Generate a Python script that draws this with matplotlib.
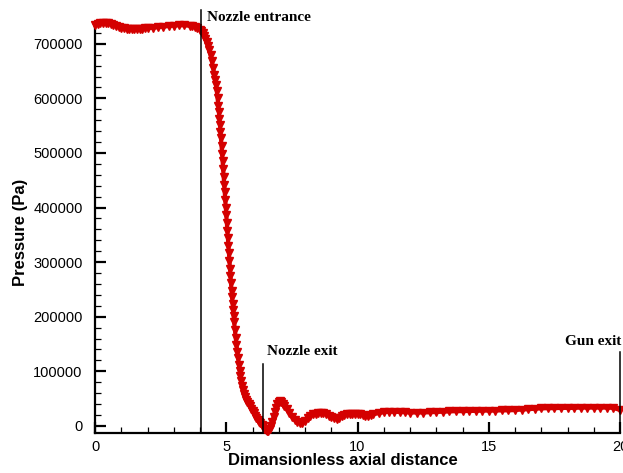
import numpy as np
import matplotlib
matplotlib.use("Agg")
import matplotlib.pyplot as plt

# axial position (dimensionless) and static pressure (Pa)
x_pos = [
    0.0, 0.1, 0.2, 0.3, 0.4, 0.5, 0.6, 0.7, 0.8, 0.9,
    1.0, 1.1, 1.2, 1.3, 1.4, 1.5, 1.6, 1.7, 1.8, 1.9,
    2.0, 2.2, 2.4, 2.6, 2.8, 3.0, 3.2, 3.4, 3.6, 3.7,
    3.8, 3.9, 4.0, 4.05, 4.10, 4.15, 4.20, 4.25, 4.30, 4.35,
    4.40, 4.45, 4.50, 4.55, 4.58, 4.61, 4.64, 4.67, 4.70, 4.72,
    4.74, 4.76, 4.78, 4.80, 4.82, 4.84, 4.86, 4.88, 4.90, 4.92,
    4.94, 4.96, 4.98, 5.00, 5.02, 5.04, 5.06, 5.08, 5.10, 5.12,
    5.14, 5.16, 5.18, 5.20, 5.22, 5.24, 5.26, 5.28, 5.30, 5.33,
    5.36, 5.39, 5.42, 5.45, 5.48, 5.51, 5.54, 5.57, 5.60, 5.64,
    5.68, 5.72, 5.76, 5.80, 5.85, 5.90, 5.95, 6.00, 6.05, 6.10,
    6.15, 6.20, 6.25, 6.30, 6.35, 6.40, 6.45, 6.50, 6.55, 6.60,
    6.65, 6.70, 6.75, 6.80, 6.85, 6.90, 6.95, 7.00, 7.05, 7.10,
    7.15, 7.20, 7.30, 7.40, 7.50, 7.60, 7.70, 7.80, 7.90, 8.00,
    8.10, 8.20, 8.30, 8.40, 8.50, 8.60, 8.70, 8.80, 8.90, 9.00,
    9.10, 9.20, 9.30, 9.40, 9.50, 9.60, 9.70, 9.80, 9.90, 10.0,
    10.1, 10.2, 10.3, 10.4, 10.5, 10.6, 10.8, 11.0, 11.2, 11.4,
    11.6, 11.8, 12.0, 12.25, 12.5, 12.75, 13.0, 13.25, 13.5, 13.75,
    14.0, 14.25, 14.5, 14.75, 15.0, 15.25, 15.5, 15.75, 16.0, 16.25,
    16.5, 16.75, 17.0, 17.25, 17.5, 17.75, 18.0, 18.25, 18.5, 18.75,
    19.0, 19.25, 19.5, 19.75, 20.0,
]
pressure = [
    735000, 737000, 738500, 739000, 739000, 738000, 736500, 735000, 733000, 731000,
    729500, 728500, 727500, 727000, 727000, 727000, 727500, 728000, 728000, 728500,
    729000, 729500, 730500, 731500, 732500, 733500, 734000, 734000, 733000, 732000,
    730500, 728500, 726000, 724000, 720000, 715000, 709000, 703000, 696000, 688000,
    679000, 668000, 656000, 643000, 634000, 624000, 613000, 600000, 586000, 575000,
    563000, 551000, 539000, 527000, 513000, 499000, 485000, 470000, 456000, 442000,
    428000, 414000, 400000, 386000, 372000, 358000, 344000, 330000, 316000, 302000,
    288000, 274000, 261000, 248000, 236000, 224000, 212000, 201000, 190000, 175000,
    161000, 148000, 136000, 124000, 112000, 101000, 91000, 82000, 74000, 66000,
    59000, 53000, 48000, 44000, 40000, 36000, 31000, 27000, 23000, 19000,
    15000, 11500, 8000, 5000, 2000, -1000, -5000, -8000, -10000, -10000,
    -6000, 0, 8000, 16000, 25000, 33000, 40000, 44000, 45000, 43000,
    40000, 37000, 31000, 24000, 17000, 11000, 7000, 5000, 5500, 9000,
    14000, 18000, 21000, 22500, 23000, 23000, 23000, 22000, 19000, 16000,
    14000, 13500, 15000, 18000, 20500, 22000, 22500, 22500, 22500, 22000,
    21000, 19500, 18500, 18500, 19500, 21000, 23500, 25000, 26000, 26000,
    25500, 25000, 24500, 24500, 24500, 25000, 25500, 26000, 26500, 27000,
    27000, 27500, 27500, 28000, 28000, 28000, 28500, 28500, 29000, 30000,
    30500, 31500, 32000, 32500, 32500, 33000, 33000, 33000, 33500, 33500,
    33500, 33500, 33500, 33000, 29000,
]

# marker lines: (x position, top of line in Pa, label)
mark_x = [4.05, 6.4, 20.0]
mark_top = [762000, 113000, 135000]
mark_text = ["Nozzle entrance", "Nozzle exit", "Gun exit"]

red = "#d40000"

fig = plt.figure(figsize=(6.23, 4.73), dpi=100)
ax = fig.add_axes([95 / 623, 40 / 473, 525 / 623, 411 / 473])

ax.plot(x_pos, pressure, color=red, linewidth=3.0, marker="v", markersize=5.5,
        markeredgecolor=red, markerfacecolor=red, clip_on=False, zorder=3)

for xm, top in zip(mark_x, mark_top):
    ax.plot([xm, xm], [-13000, top], color="black", linewidth=1.1,
            clip_on=False, zorder=4)

serif = dict(family="Liberation Serif", weight="bold", fontsize=11)
ax.text(4.27, 748000, mark_text[0], ha="left", va="center", **serif)
ax.text(6.54, 137000, mark_text[1], ha="left", va="center", **serif)
ax.text(20.05, 155000, mark_text[2], ha="right", va="center", **serif)

ax.set_xlim(0, 20)
ax.set_ylim(-13000, 740000)
ax.set_xticks([0, 5, 10, 15, 20])
ax.set_xticks(np.arange(0, 21, 1), minor=True)
ax.set_yticks(np.arange(0, 700001, 100000))
ax.set_yticks(np.arange(0, 740001, 20000), minor=True)

for side in ["top", "right"]:
    ax.spines[side].set_visible(False)
for side in ["left", "bottom"]:
    ax.spines[side].set_linewidth(1.6)

ax.tick_params(which="major", direction="in", length=8, width=1.6,
               labelsize=10.5, pad=5)
ax.tick_params(which="minor", direction="in", length=4.5, width=0.9)
ax.tick_params(axis="y", which="major", pad=9)
for lab in ax.get_xticklabels() + ax.get_yticklabels():
    lab.set_family("Liberation Sans")

ax.set_xlabel("Dimansionless axial distance", family="Liberation Sans",
              weight="bold", fontsize=12)
ax.set_ylabel("Pressure (Pa)", family="Liberation Sans",
              weight="bold", fontsize=12)
ax.xaxis.set_label_coords(0.472, -0.049)
ax.xaxis.label.set_va("top")
ax.yaxis.set_label_coords(-0.128, 0.489)

fig.savefig("out.png", dpi=100)
